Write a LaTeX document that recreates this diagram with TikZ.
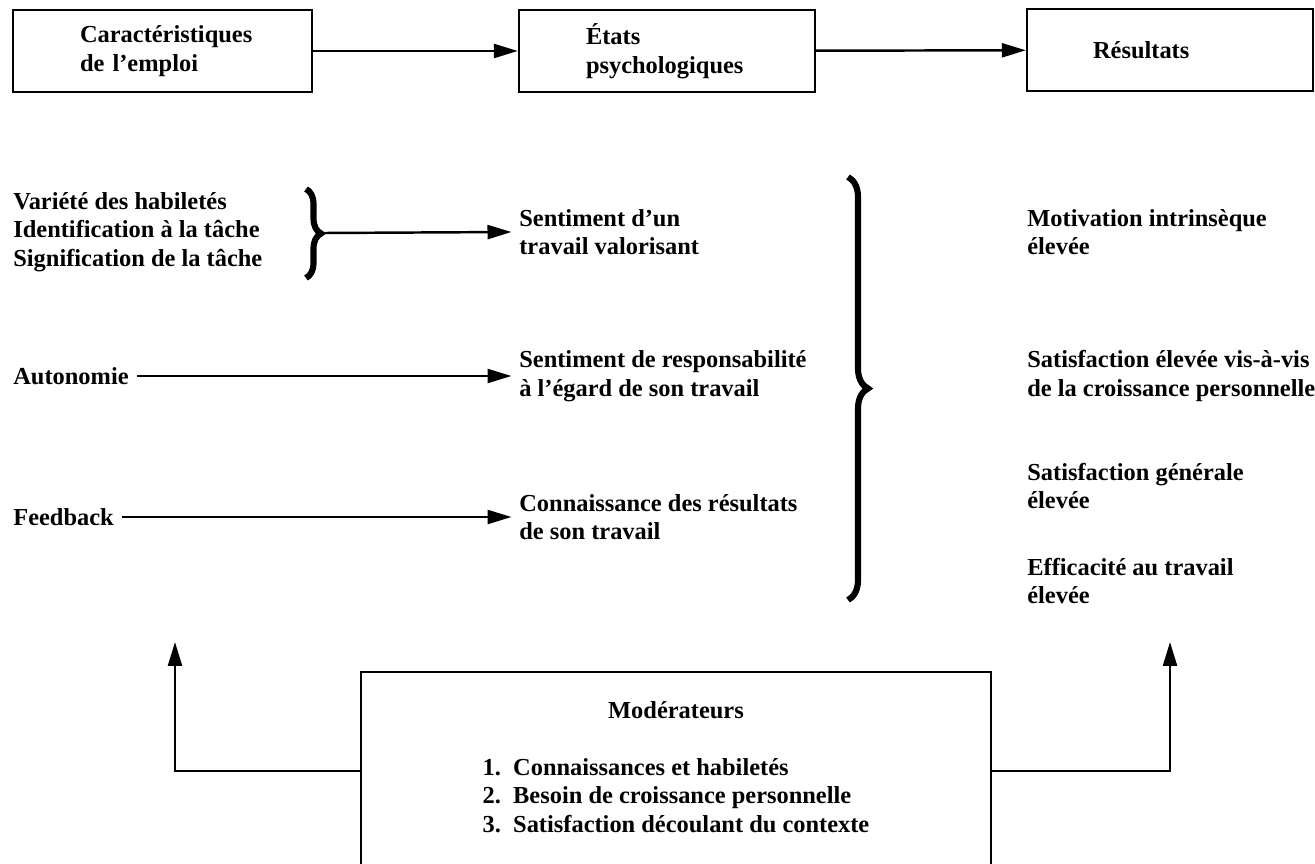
\documentclass[tikz,border=0pt]{standalone}
\usepackage{fontspec}
\setmainfont{Liberation Serif}
\usetikzlibrary{arrows.meta,decorations.pathreplacing}

\begin{document}
\begin{tikzpicture}[x=0.02cm,y=-0.02cm]
		\tikzstyle{box} =[draw, line width=1.4pt, minimum height=1.64cm, align=left, font=\fontsize{13.9}{16.2}\selectfont\bfseries];
		\tikzstyle{txt} =[align=left, inner xsep=0.15cm, inner ysep=0pt, font=\fontsize{13.9}{16.2}\selectfont\bfseries];
		\tikzstyle{arr} =[line width=1.4pt, -{Triangle[length=0.48cm,width=0.28cm]}];
		\tikzstyle{brc} =[decorate, line width=3.5pt];
		\useasboundingbox (0,0) rectangle (1315,864);
		\clip (0,0) rectangle (1315,864);

		\node[box, minimum width=5.98cm, text width=3.3cm] (car) at (162.5,51) {Caractéristiques\\de l'emploi};
		\node[box, minimum width=5.92cm, text width=3.24cm] (etat) at (667,51) {États\\psychologiques};
		\node[box, minimum width=5.72cm, text width=3.08cm] (res) at (1170,50) {Résultats};

		\draw[arr] (car) -- (etat);
		\draw[arr] (etat) -- (res);

		\node[txt, anchor=west] (hab) at (5.5,232) {Variété des habiletés\\Identification à la tâche\\Signification de la tâche};
		\node[txt, anchor=west] (auto) at (5.5,376) {Autonomie};
		\node[txt, anchor=west] (feed) at (5.5,517) {Feedback};

		\node[txt, anchor=west] (valor) at (511.5,232) {Sentiment d'un\\travail valorisant};
		\node[txt, anchor=west] (resp) at (511.5,376) {Sentiment de responsabilité\\à l'égard de son travail};
		\node[txt, anchor=west] (conn) at (511.5,517) {Connaissance des résultats\\de son travail};

		\draw[brc, decoration={brace, amplitude=0.3cm}] (306,189) -- (306,278);
		\coordinate (vtip) at (325,233);
		\draw[arr] (vtip) -- (valor.west);
		\draw[arr] (auto) -- (resp);
		\draw[arr] (feed) -- (conn);

		\draw[brc, decoration={brace, amplitude=0.4cm}] (848,177) -- (848,600);

		\node[txt, anchor=west] (motiv) at (1019.5,232) {Motivation intrinsèque\\élevée};
		\node[txt, anchor=west] (croiss) at (1019.5,376) {Satisfaction élevée vis-à-vis\\de la croissance personnelle};
		\node[txt, anchor=west] (gen) at (1019.5,486) {Satisfaction générale\\élevée};
		\node[txt, anchor=west] (effic) at (1019.5,581) {Efficacité au travail\\élevée};

		\node[box, minimum width=12.6cm, minimum height=3.96cm, align=center] (mod) at (676,771) {Modérateurs\\[0.58cm]\begin{tabular}[t]{@{}l@{}}1.\enspace Connaissances et habiletés\\2.\enspace Besoin de croissance personnelle\\3.\enspace Satisfaction découlant du contexte\end{tabular}};

		\coordinate (ltip) at (175,642);
		\coordinate (rtip) at (1170,642);
		\draw[arr] (mod.west) -| (ltip);
		\draw[arr] (mod.east) -| (rtip);
	\end{tikzpicture}
\end{document}
